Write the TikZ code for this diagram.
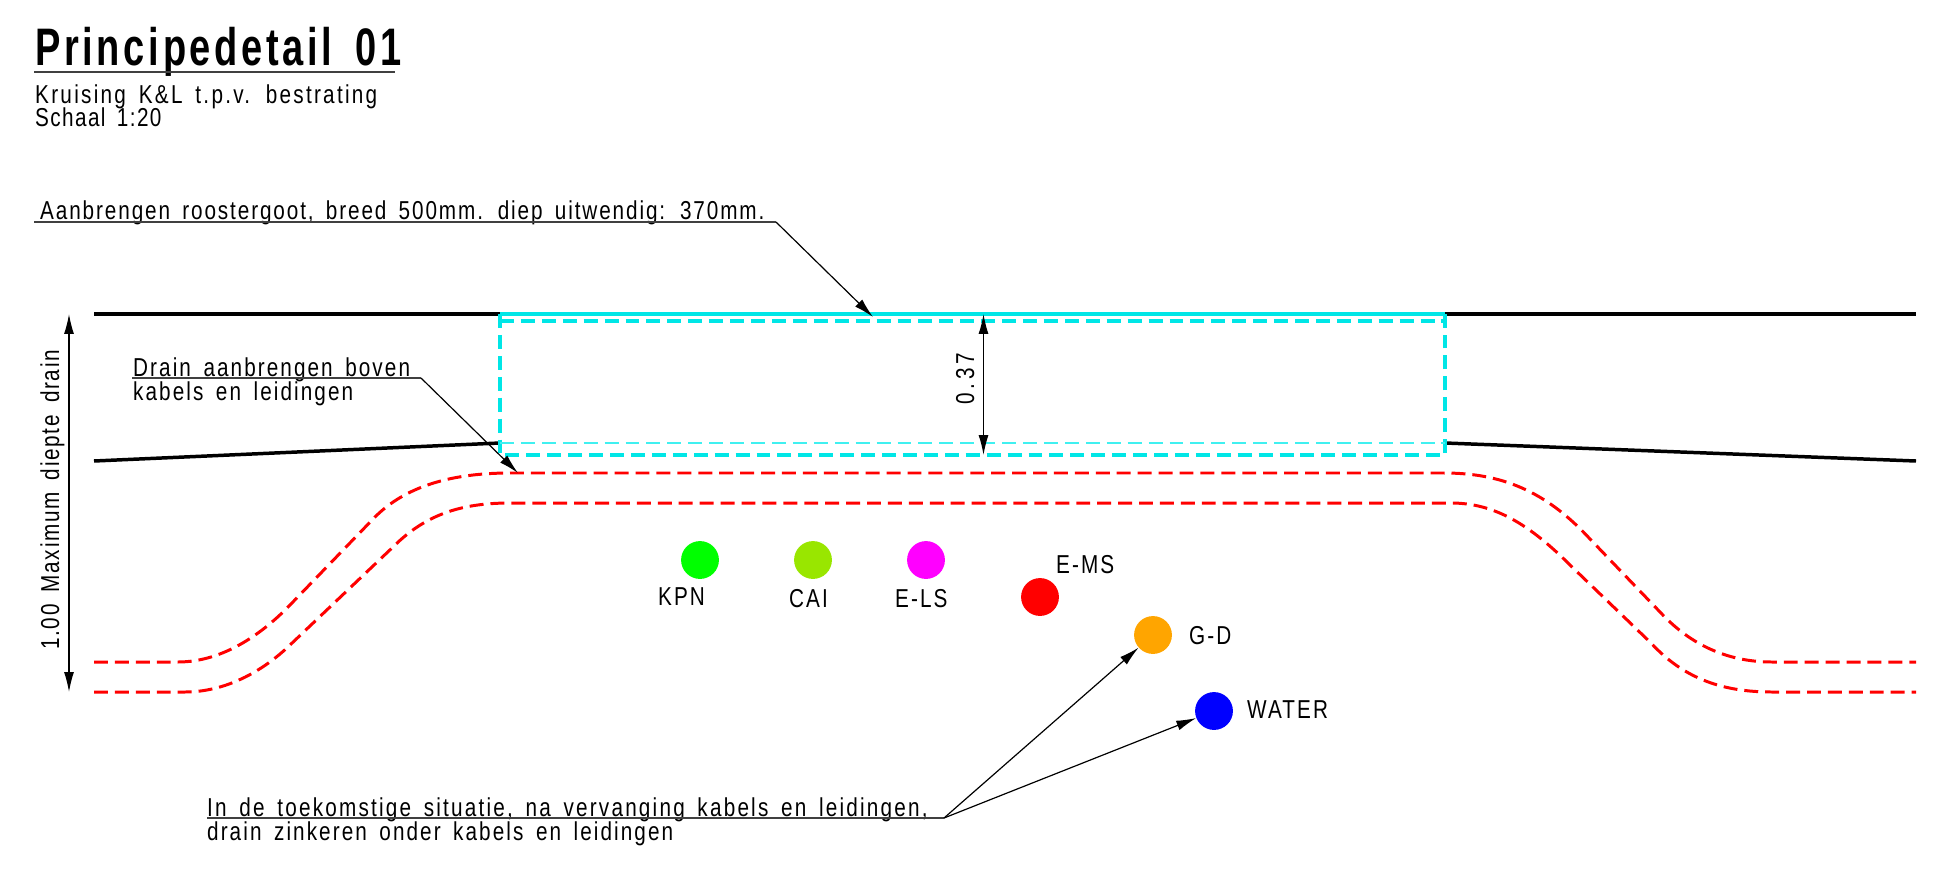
\documentclass[tikz,border=0pt]{standalone}
\usepackage{fontspec}
\setmainfont[FakeStretch=0.8,LetterSpace=8,WordSpace=1.6]{Liberation Sans}
\newfontfamily\titlefont[FakeStretch=0.72,LetterSpace=7,WordSpace=1.6]{Liberation Sans Bold}
\usetikzlibrary{arrows.meta}
\tikzset{>=latex}
\definecolor{guttercyan}{HTML}{00E6E6}
\definecolor{gutterpale}{HTML}{40F0F0}
\definecolor{drainred}{HTML}{FF0000}
\definecolor{kpngreen}{HTML}{00FF00}
\definecolor{caigreen}{HTML}{99E600}
\definecolor{elspink}{HTML}{FF00FF}
\definecolor{gdorange}{HTML}{FFA500}
\definecolor{waterblue}{HTML}{0000FF}
\newcommand{\spaced}[1]{\addfontfeature{LetterSpace=#1}}
\tikzstyle{label}=[inner sep=0,anchor=base west,font=\fontsize{26}{26}\selectfont]
\tikzstyle{rotlabel}=[label,rotate=90]
\tikzstyle{ground}=[black,line width=3.5]
\tikzstyle{gutter}=[guttercyan,line width=3.5,dash pattern=on 14 off 7]
\tikzstyle{gutterthin}=[gutterpale,line width=2,dash pattern=on 14 off 7]
\tikzstyle{drain}=[drainred,line width=3,dash pattern=on 14 off 7]
\tikzstyle{leader}=[black!75,line width=1.5]
\tikzstyle{pointer}=[black,line width=1.2,-{Latex[length=20,width=10]}]
\tikzstyle{dimline}=[black,line width=1.2,{Latex[length=20,width=10]}-{Latex[length=20,width=10]}]
\tikzstyle{cable}=[circle,inner sep=0,minimum size=38]

\begin{document}
\begin{tikzpicture}[x=1bp,y=-1bp]
  \useasboundingbox (0,0) rectangle (1939,876);

    % title block
    \node[label,font=\fontsize{53}{53}\selectfont\titlefont] (title) at (35,65) {Principedetail 01};
    \node[label] (subtitle) at (35,103) {\spaced{8.8}Kruising K\&L t.p.v. bestrating};
    \node[label] (scale) at (35,126) {\spaced{5.4}Schaal 1:20};
    \coordinate (titleA) at (34,72);
    \coordinate (titleB) at (395,72);
    \draw[leader] (titleA) -- (titleB);

    % ground and gutter
    \coordinate (topL) at (94,314);
    \coordinate (topA) at (500,314);
    \coordinate (topB) at (1445,314);
    \coordinate (topR) at (1916,314);
    \coordinate (lowL) at (94,461);
    \coordinate (lowA) at (500,443);
    \coordinate (lowB) at (1445,443);
    \coordinate (lowR) at (1916,461);
    \coordinate (botA) at (500,455);
    \coordinate (botB) at (1445,455);
    \coordinate (innerA) at (500,321);
    \coordinate (innerB) at (1445,321);
    \coordinate (dimT) at (983.5,314);
    \coordinate (dimB) at (983.5,455);
    \draw[ground] (topL) -- (topA);
    \draw[ground] (topB) -- (topR);
    \draw[ground] (lowL) -- (lowA);
    \draw[ground] (lowB) -- (lowR);
    \draw[guttercyan,line width=4] (topA) -- (topB);
    \draw[gutter] (innerA) -- (innerB);
    \draw[gutter] (topA) -- (botA) -- (botB) -- (topB);
    \draw[gutterthin] (lowA) -- (lowB);

    % drains
    \draw[drain] (94,662) -- (178,662) .. controls (225,662) and (265,631) .. (290,605) -- (375,517)
      .. controls (405,487) and (450,473) .. (510,473) -- (1444,473)
      .. controls (1500,473) and (1545,490) .. (1590,539) -- (1660,612)
      .. controls (1695,650) and (1735,662) .. (1772,662) -- (1916,662);
    \draw[drain] (94,692) -- (185,692) .. controls (225,692) and (262,672) .. (290,645) -- (393,547)
      .. controls (425,515) and (460,503) .. (510,503) -- (1451,503)
      .. controls (1495,503) and (1530,525) .. (1570,565) -- (1651,643)
      .. controls (1685,680) and (1725,692) .. (1772,692) -- (1916,692);

    % cables
    \foreach \name/\col/\px/\py in {kpn/kpngreen/700/560,cai/caigreen/813/560,els/elspink/926/560,
        ems/drainred/1040/597,gd/gdorange/1153/635,water/waterblue/1214/711}{
      \node[cable,fill=\col] (\name) at (\px,\py) {};
    }
    \node[label] (kpnlab) at (658,605) {KPN};
    \node[label] (cailab) at (789,607) {CAI};
    \node[label] (elslab) at (895,607) {E-LS};
    \node[label] (emslab) at (1056,573) {E-MS};
    \node[label] (gdlab) at (1189,644) {G-D};
    \node[label] (waterlab) at (1247,718) {WATER};

    % annotations
    \node[label] (goot) at (40,219) {\spaced{7.3}Aanbrengen roostergoot, breed 500mm. diep uitwendig: 370mm.};
    \coordinate (gootA) at (34,222);
    \coordinate (gootB) at (776,222);
    \coordinate (gootC) at (873,317);
    \draw[leader] (gootA) -- (gootB);
    \draw[pointer] (gootB) -- (gootC);

    \node[label] (drainA) at (133,376) {Drain aanbrengen boven};
    \node[label] (drainB) at (133,400) {kabels en leidingen};
    \coordinate (drainL) at (132,378);
    \coordinate (drainM) at (421,378);
    \coordinate (drainT) at (518,473);
    \draw[leader] (drainL) -- (drainM);
    \draw[pointer] (drainM) -- (drainT);

    \node[label] (futA) at (207,816) {\spaced{8.5}In de toekomstige situatie, na vervanging kabels en leidingen,};
    \node[label] (futB) at (207,840) {drain zinkeren onder kabels en leidingen};
    \coordinate (futL) at (207,818);
    \coordinate (futM) at (944,818);
    \draw[leader] (futL) -- (futM);
    \draw[pointer] (futM) -- (gd);
    \draw[pointer] (futM) -- (water);

    % dimensions
    \coordinate (maxT) at (69,314);
    \coordinate (maxB) at (69,692);
    \draw[dimline] (maxT) -- (maxB);
    \node[rotlabel] (maxlab) at (59,650) {\spaced{6.7}1.00 Maximum diepte drain};
    \draw[dimline] (dimT) -- (dimB);
    \node[rotlabel] (dimlab) at (974,405) {\spaced{15}0.37};

\end{tikzpicture}
\end{document}
